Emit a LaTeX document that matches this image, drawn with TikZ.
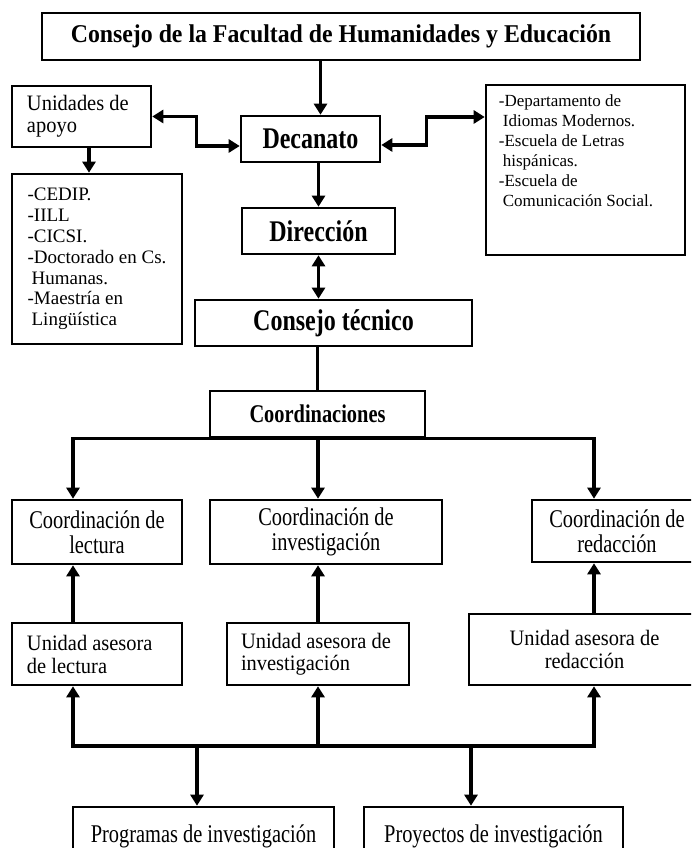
\documentclass[tikz,border=0pt]{standalone}
\usepackage{fontspec}
\setmainfont{Liberation Serif}
\newfontfamily\condfont[FakeStretch=0.8]{Liberation Serif}
\newfontfamily\semifont[FakeStretch=0.93]{Liberation Serif}
\usetikzlibrary{arrows.meta}

\begin{document}
\begin{tikzpicture}
    [x=1pt,y=1pt,
    box/.style={shape=rectangle,draw=black,line width=2.6pt,inner sep=0pt},
    head/.style={box,font=\condfont\fontsize{30}{34}\selectfont\bfseries},
    unit/.style={box,font=\condfont\fontsize{25.5}{25}\selectfont,align=flush center},
    aide/.style={box,font=\semifont\fontsize{22}{23}\selectfont,align=flush left},
    link/.style={->,>={Triangle[length=11pt,width=13pt]},line width=3.5pt},
    dlink/.style={<->,>={Triangle[length=11pt,width=13pt]},line width=3.5pt},
    edge/.style={line width=3.5pt}]

    \useasboundingbox (0,0) rectangle (691,848);
    \clip (0,0) rectangle (691,848);

    \node (consejo) [head,font=\semifont\fontsize{25.6}{30}\selectfont\bfseries,minimum width=598pt,minimum height=47pt] at (341,811.5) {Consejo de la Facultad de Humanidades y Educación};
    \node (unidades) [aide,text width=109pt,inner xsep=15pt,minimum height=61pt,font=\semifont\fontsize{22}{22}\selectfont] at (81.5,731.5) {Unidades de\\apoyo};
    \node (decanato) [head,minimum width=139pt,minimum height=46pt] at (310.5,709) {Decanato};
    \node (rlist) [box,minimum width=199pt,minimum height=170pt] at (585.5,678) {};
    \node (rlisttxt) [anchor=north west,inner sep=0pt,align=flush left,font=\fontsize{17}{20}\selectfont] at ([xshift=14pt,yshift=-11pt]rlist.north west) {-Departamento de\\\hspace*{4pt}Idiomas Modernos.\\-Escuela de Letras\\\hspace*{4pt}hispánicas.\\-Escuela de\\\hspace*{4pt}Comunicación Social.};
    \node (llist) [box,align=flush left,minimum width=170pt,minimum height=170pt,font=\fontsize{19}{20.8}\selectfont] at (97,589) {-CEDIP.\\-IILL\\-CICSI.\\-Doctorado en Cs.\\\hspace*{4pt}Humanas.\\-Maestría en\\\hspace*{4pt}Lingüística};
    \node (direccion) [head,minimum width=153pt,minimum height=46pt] at (318.5,617) {Dirección};
    \node (tecnico) [head,minimum width=277pt,minimum height=46pt] at (333.5,525) {Consejo técnico};
    \node (coordinaciones) [head,font=\condfont\fontsize{25.5}{28}\selectfont\bfseries,minimum width=215pt,minimum height=46pt] at (317.5,434) {Coordinaciones};

    \node (clect) [unit,minimum width=170pt,minimum height=64pt] at (97,316) {Coordinación de\\lectura};
    \node (cinv) [unit,minimum width=232pt,minimum height=64pt] at (326,316) {Coordinación de\\investigación};
    \node (cred) [unit,minimum width=170pt,minimum height=62pt] at (617,317) {Coordinación de\\redacción};
    \node (ulect) [aide,text width=140pt,inner xsep=15pt,minimum height=62pt] at (97,194) {Unidad asesora\\de lectura};
    \node (uinv) [aide,text width=154pt,inner xsep=14pt,minimum height=62pt,font=\semifont\fontsize{22}{22}\selectfont] at (318,194) {Unidad asesora de\\investigación};
    \node (ured) [aide,align=flush center,minimum width=231pt,minimum height=71pt] at (584.5,198.5) {Unidad asesora de\\redacción};
    \node (prog) [unit,minimum width=261pt,minimum height=58pt] at (203.5,12) {Programas de investigación};
    \node (proy) [unit,minimum width=259pt,minimum height=58pt] at (493.5,12) {Proyectos de investigación};

    \coordinate (colA) at (73,0);
    \coordinate (colB) at (318,0);
    \coordinate (colC) at (594,0);
    \coordinate (colD) at (197,0);
    \coordinate (colE) at (471,0);
    \coordinate (bus) at (0,102);

    \draw [link] ([xshift=10pt]decanato.north |- consejo.south) -- ([xshift=10pt]decanato.north);
    \draw [dlink] (unidades.east) -- ++(44,0) |- ([yshift=-7pt]decanato.west);
    \draw [dlink] ([yshift=-6pt]decanato.east) -- ++(45,0) |- ([yshift=53pt]rlist.west);
    \draw [link] ([xshift=7.5pt]unidades.south) -- ([xshift=7.5pt]unidades.south |- llist.north);
    \draw [link] (decanato.south -| direccion.north) -- (direccion.north);
    \draw [dlink] (direccion.south) -- (direccion.south |- tecnico.north);
    \draw [edge] (tecnico.south -| coordinaciones.north) -- (coordinaciones.north);

    \draw [link] (coordinaciones.south -| colB) -| (clect.north -| colA);
    \draw [link] (coordinaciones.south -| colB) -| (cred.north -| colC);
    \draw [link] (coordinaciones.south -| colB) -- (cinv.north -| colB);

    \draw [link] (ulect.north -| colA) -- (clect.south -| colA);
    \draw [link] (uinv.north -| colB) -- (cinv.south -| colB);
    \draw [link] (ured.north -| colC) -- (cred.south -| colC);

    \draw [link] (bus -| colB) -| (ulect.south -| colA);
    \draw [link] (bus -| colB) -| (ured.south -| colC);
    \draw [link] (bus -| colB) -- (uinv.south -| colB);
    \draw [link] (bus -| colD) -- (prog.north -| colD);
    \draw [link] (bus -| colE) -- (proy.north -| colE);

  \end{tikzpicture}
\end{document}
